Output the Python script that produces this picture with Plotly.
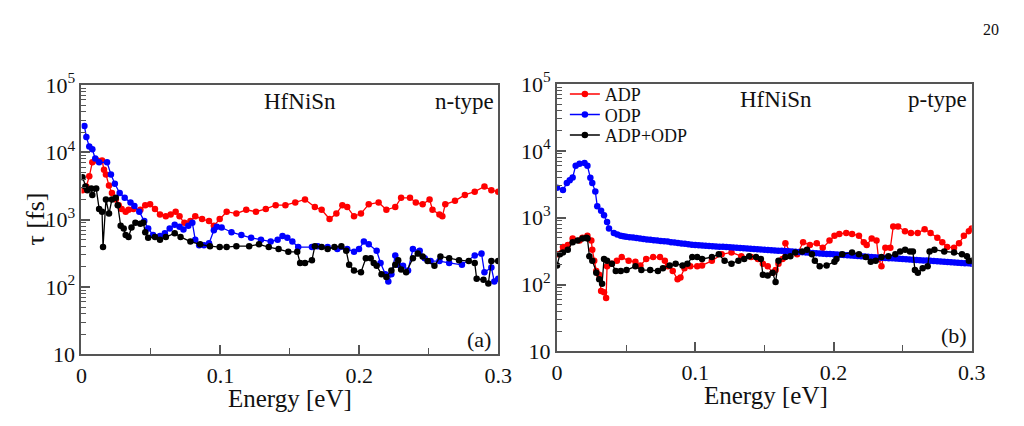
import plotly.graph_objects as go

# ---------------- data: n-type (panel a) ----------------
n_adp_E = [0.0007, 0.0035, 0.0056, 0.0078, 0.0113, 0.0148, 0.0162, 0.0176, 0.0198, 0.0219, 0.0247, 0.0268,
           0.0289, 0.0318, 0.0339, 0.0374, 0.0424, 0.0459, 0.0494, 0.0529, 0.0565, 0.0607, 0.0642, 0.0678,
           0.0706, 0.0741, 0.0784, 0.0819, 0.0868, 0.0918, 0.0953, 0.0995, 0.1045, 0.1115, 0.1186, 0.1256,
           0.1327, 0.1398, 0.1468, 0.1539, 0.1609, 0.1680, 0.1729, 0.1786, 0.1835, 0.1878, 0.1913, 0.1962,
           0.2012, 0.2068, 0.2139, 0.2195, 0.2259, 0.2301, 0.2365, 0.2407, 0.2456, 0.2506, 0.2527, 0.2577,
           0.2598, 0.2619, 0.2689, 0.2760, 0.2831, 0.2901, 0.2951, 0.3000]
n_adp_tau = [2730, 3100, 4400, 7100, 7570, 7570, 5500, 4690, 3200, 2480, 1990, 1640,
             1440, 1310, 1400, 1440, 1400, 1640, 1690, 1440, 1190, 1120, 1190, 1310,
             1120, 895, 953, 1120, 1020, 953, 813, 1020, 1310, 1230, 1400, 1310,
             1440, 1640, 1640, 1800, 1990, 1540, 1400, 1020, 1230, 1640, 1540, 1120,
             1230, 1690, 1800, 1400, 1540, 2110, 2110, 1800, 1690, 1990, 1400, 1190,
             1120, 1690, 1900, 2330, 2600, 3100, 2730, 2600]

n_odp_E = [0.0021, 0.0035, 0.0056, 0.0078, 0.0099, 0.0127, 0.0184, 0.0212, 0.0240, 0.0275, 0.0311, 0.0353,
           0.0381, 0.0416, 0.0452, 0.0480, 0.0515, 0.0565, 0.0600, 0.0635, 0.0671, 0.0706, 0.0734, 0.0769,
           0.0798, 0.0819, 0.0847, 0.0882, 0.0918, 0.0953, 0.0974, 0.1009, 0.1080, 0.1151, 0.1221, 0.1292,
           0.1362, 0.1412, 0.1447, 0.1482, 0.1518, 0.1560, 0.1659, 0.1701, 0.1772, 0.1842, 0.1913, 0.1962,
           0.1998, 0.2033, 0.2068, 0.2125, 0.2153, 0.2188, 0.2209, 0.2231, 0.2259, 0.2280, 0.2315, 0.2351,
           0.2386, 0.2435, 0.2471, 0.2513, 0.2577, 0.2647, 0.2739, 0.2831, 0.2880, 0.2901, 0.2951, 0.2972,
           0.3000]
n_odp_tau = [24600, 16800, 12200, 11100, 8070, 7100, 7100, 4690, 3410, 2480, 2110, 1800,
             1590, 1310, 953, 739, 591, 572, 630, 739, 839, 787, 716, 813,
             895, 504, 416, 416, 444, 693, 787, 763, 650, 591, 537, 504,
             473, 504, 572, 537, 473, 391, 391, 403, 391, 366, 366, 333,
             366, 473, 430, 344, 227, 155, 120, 155, 293, 213, 206, 176,
             366, 344, 266, 242, 242, 227, 213, 293, 313, 165, 194, 120,
             132]

n_tot_E = [0.0007, 0.0028, 0.0042, 0.0071, 0.0078, 0.0106, 0.0127, 0.0148, 0.0155, 0.0176, 0.0198, 0.0219,
           0.0247, 0.0261, 0.0282, 0.0304, 0.0318, 0.0339, 0.0360, 0.0388, 0.0424, 0.0445, 0.0459, 0.0480,
           0.0529, 0.0565, 0.0607, 0.0671, 0.0713, 0.0784, 0.0854, 0.0925, 0.0995, 0.1045, 0.1115, 0.1207,
           0.1278, 0.1348, 0.1419, 0.1489, 0.1553, 0.1574, 0.1609, 0.1659, 0.1680, 0.1729, 0.1772, 0.1821,
           0.1871, 0.1906, 0.1927, 0.1962, 0.2012, 0.2047, 0.2082, 0.2104, 0.2125, 0.2160, 0.2195, 0.2231,
           0.2259, 0.2280, 0.2301, 0.2337, 0.2386, 0.2421, 0.2456, 0.2492, 0.2541, 0.2584, 0.2647, 0.2718,
           0.2788, 0.2831, 0.2845, 0.2894, 0.2929, 0.2951, 0.3000]
n_tot_tau = [4260, 3100, 2730, 2910, 2330, 2910, 1440, 1310, 391, 1990, 1230, 1990,
             2110, 1640, 813, 739, 591, 554, 763, 895, 866, 895, 650, 537,
             554, 504, 554, 630, 554, 473, 430, 403, 391, 391, 403, 403,
             430, 391, 366, 333, 333, 227, 227, 250, 403, 391, 366, 391,
             403, 344, 213, 176, 165, 266, 266, 227, 206, 155, 141, 176,
             213, 250, 182, 165, 266, 313, 284, 242, 206, 284, 266, 250,
             242, 227, 132, 128, 113, 242, 242]

# ---------------- data: p-type (panel b) ----------------
p_adp_E = [0.0000, 0.0043, 0.0078, 0.0113, 0.0163, 0.0184, 0.0220, 0.0248, 0.0255, 0.0269, 0.0284, 0.0305,
           0.0319, 0.0340, 0.0355, 0.0362, 0.0397, 0.0433, 0.0468, 0.0518, 0.0567, 0.0603, 0.0645, 0.0695,
           0.0745, 0.0780, 0.0801, 0.0837, 0.0872, 0.0893, 0.0922, 0.0964, 0.1014, 0.1049, 0.1120, 0.1191,
           0.1262, 0.1333, 0.1404, 0.1453, 0.1489, 0.1524, 0.1560, 0.1581, 0.1602, 0.1631, 0.1652, 0.1688,
           0.1737, 0.1780, 0.1829, 0.1879, 0.1922, 0.1971, 0.2007, 0.2042, 0.2092, 0.2134, 0.2184, 0.2219,
           0.2240, 0.2276, 0.2311, 0.2326, 0.2347, 0.2375, 0.2411, 0.2432, 0.2467, 0.2517, 0.2560, 0.2609,
           0.2659, 0.2702, 0.2751, 0.2787, 0.2822, 0.2872, 0.2908, 0.2943, 0.2979, 0.3000]
p_adp_tau = [284, 366, 391, 488, 458, 504, 537, 458, 333, 227, 160, 141,
             80, 77, 63, 188, 206, 227, 258, 227, 220, 194, 242, 258,
             258, 227, 188, 160, 120, 128, 176, 188, 188, 194, 227, 284,
             303, 266, 258, 242, 206, 188, 150, 165, 206, 242, 416, 303,
             284, 430, 391, 416, 355, 458, 537, 572, 591, 572, 537, 430,
             391, 488, 458, 242, 188, 355, 355, 739, 739, 630, 591, 591,
             672, 591, 504, 430, 366, 355, 416, 537, 630, 693]

p_odp_E = [0.0000, 0.0043, 0.0071, 0.0092, 0.0113, 0.0135, 0.0163, 0.0199, 0.0220, 0.0241, 0.0255, 0.0277,
           0.0291, 0.0319, 0.0340, 0.0362, 0.0376, 0.0411, 0.0436, 0.0461, 0.048, 0.050, 0.0525, 0.055,
           0.0575, 0.060, 0.0625, 0.065, 0.0675, 0.070, 0.0725,
           0.075, 0.0775, 0.080, 0.0825, 0.085, 0.0875, 0.090, 0.0925, 0.095, 0.0975, 0.100, 0.1025,
           0.105, 0.1075, 0.110, 0.1125, 0.115, 0.1175, 0.120, 0.1225, 0.125, 0.1275, 0.130, 0.1325,
           0.135, 0.1375, 0.140, 0.1425, 0.145, 0.1475, 0.150, 0.1525, 0.155, 0.1575, 0.160, 0.1625,
           0.165, 0.1675, 0.170, 0.1725, 0.175, 0.1775, 0.180, 0.1825, 0.185, 0.1875, 0.190, 0.1925,
           0.195, 0.1975, 0.200, 0.2025, 0.205, 0.2075, 0.210, 0.2125, 0.215, 0.2175, 0.220, 0.2225,
           0.225, 0.2275, 0.230, 0.2325, 0.235, 0.2375, 0.240, 0.2425, 0.245, 0.2475, 0.250, 0.2525,
           0.255, 0.2575, 0.260, 0.2625, 0.265, 0.2675, 0.270, 0.2725, 0.275, 0.2775, 0.280, 0.2825,
           0.285, 0.2875, 0.290, 0.2925, 0.295, 0.2975, 0.300]
p_odp_tau = [2820, 2600, 3300, 3650, 4000, 6000, 6450, 6600, 6000, 3950, 3300, 2480,
             1490, 1270, 1090, 866, 693, 591, 560, 537, 528, 520, 512, 505,
             497, 490, 482, 475, 468, 462, 456,
             450, 445, 440, 432, 425, 419, 413, 407, 402, 396, 391, 388,
             385, 382, 379, 376, 373, 370, 367, 364, 361, 358, 355, 352,
             349, 347, 344, 341, 338, 336, 333, 330, 328, 325, 322, 320,
             317, 315, 312, 310, 307, 305, 302, 300, 297, 295, 293, 290,
             288, 286, 284, 281, 279, 277, 275, 272, 270, 268, 266, 264,
             262, 259, 257, 255, 253, 251, 249, 247, 245, 243, 241, 240,
             238, 236, 234, 232, 230, 229, 227, 225, 223, 221, 219, 218,
             216, 214, 212, 211, 209, 208, 206]

p_tot_E = [0.0000, 0.0021, 0.0043, 0.0078, 0.0113, 0.0149, 0.0184, 0.0213, 0.0220, 0.0234, 0.0255, 0.0284,
           0.0305, 0.0326, 0.0340, 0.0362, 0.0397, 0.0425, 0.0461, 0.0503, 0.0567, 0.0610, 0.0674, 0.0730,
           0.0766, 0.0815, 0.0858, 0.0908, 0.0943, 0.0978, 0.1014, 0.1049, 0.1120, 0.1170, 0.1212, 0.1262,
           0.1312, 0.1354, 0.1390, 0.1440, 0.1475, 0.1489, 0.1524, 0.1560, 0.1581, 0.1602, 0.1652, 0.1688,
           0.1723, 0.1773, 0.1808, 0.1844, 0.1865, 0.1900, 0.1950, 0.2007, 0.2021, 0.2063, 0.2134, 0.2184,
           0.2234, 0.2269, 0.2305, 0.2347, 0.2397, 0.2447, 0.2482, 0.2518, 0.2553, 0.2574, 0.2589, 0.2610,
           0.2645, 0.2681, 0.2695, 0.2730, 0.2801, 0.2872, 0.2929, 0.2965, 0.2979, 0.3000]
p_tot_tau = [194, 284, 303, 333, 430, 458, 488, 504, 488, 266, 227, 150,
             120, 103, 242, 227, 206, 160, 160, 165, 188, 165, 165, 160,
             176, 194, 206, 194, 206, 258, 258, 242, 258, 284, 227, 206,
             227, 242, 266, 258, 242, 141, 137, 150, 109, 227, 258, 266,
             303, 313, 333, 284, 227, 188, 194, 220, 242, 284, 303, 284,
             258, 220, 227, 258, 266, 284, 313, 333, 313, 313, 165, 150,
             176, 188, 313, 333, 313, 303, 284, 266, 227, 227]

y_tickvals = [10, 100, 1000, 10000, 100000]
y_ticktext = ["10", "10<sup>2</sup>", "10<sup>3</sup>", "10<sup>4</sup>", "10<sup>5</sup>"]
x_tickvals = [0, 0.1, 0.2, 0.3]
x_ticktext = ["0", "0.1", "0.2", "0.3"]
series_names = ["ADP", "ODP", "ADP+ODP"]
series_colors = ["#ff0000", "#0000ff", "#000000"]

FONT = "Liberation Serif, Times New Roman, Times, serif"
W, H = 1024, 426

fig = go.Figure()

legend_ids = ["legend", "legend2", "legend3"]
panels = [
    ("x", "y", [(n_adp_E, n_adp_tau), (n_odp_E, n_odp_tau), (n_tot_E, n_tot_tau)], False),
    ("x2", "y2", [(p_adp_E, p_adp_tau), (p_odp_E, p_odp_tau), (p_tot_E, p_tot_tau)], True),
]
for xa, ya, series, show in panels:
    for (ex, ty), name, col, lg in zip(series, series_names, series_colors, legend_ids):
        fig.add_trace(go.Scatter(
            x=ex, y=ty, xaxis=xa, yaxis=ya, name=name, showlegend=show, legend=lg,
            mode="lines+markers", line=dict(color=col, width=1.3),
            marker=dict(color=col, size=6.5, line=dict(width=0)),
        ))

minor_y = [m * 10 ** k for k in range(1, 5) for m in range(2, 10)]

def xax(domain, anchor):
    return dict(domain=domain, anchor=anchor, range=[0, 0.3], tickmode="array",
                tickvals=x_tickvals, ticktext=x_ticktext, ticks="inside", ticklen=9,
                tickwidth=1.5, tickcolor="#555", showline=True, linecolor="#555",
                linewidth=2, mirror=True, showgrid=False, zeroline=False,
                tickfont=dict(family=FONT, size=22, color="#111"),
                minor=dict(tickmode="array", tickvals=[0.05, 0.15, 0.25], ticks="inside",
                           ticklen=6, tickwidth=1.2, tickcolor="#555", showgrid=False))

def yax(domain, anchor):
    return dict(domain=domain, anchor=anchor, type="log", range=[1, 5], tickmode="array",
                tickvals=y_tickvals, ticktext=y_ticktext, ticks="inside", ticklen=9,
                tickwidth=1.5, tickcolor="#555", showline=True, linecolor="#555",
                linewidth=2, mirror=True, showgrid=False, zeroline=False,
                tickfont=dict(family=FONT, size=22, color="#111"),
                minor=dict(tickmode="array", tickvals=minor_y, ticks="inside",
                           ticklen=5, tickwidth=1, tickcolor="#555", showgrid=False))

def leg(py):
    return dict(x=570 / W, y=1 - py / H, xanchor="left", yanchor="middle",
                bgcolor="rgba(0,0,0,0)", font=dict(family=FONT, size=18, color="#111"),
                itemwidth=30, borderwidth=0)

fig.update_layout(
    width=W, height=H,
    margin=dict(l=0, r=0, t=0, b=0),
    paper_bgcolor="white", plot_bgcolor="white",
    font=dict(family=FONT, color="#111"),
    xaxis=xax([77 / W, 502 / W], "y"),
    yaxis=yax([1 - 363 / H, 1 - 74 / H], "x"),
    xaxis2=xax([562 / W, 985 / W], "y2"),
    yaxis2=yax([1 - 360 / H, 1 - 73 / H], "x2"),
    legend=leg(84), legend2=leg(106), legend3=leg(128),
    showlegend=True,
)

def ann(text, px, py, size, xanchor="center", angle=0):
    fig.add_annotation(text=text, x=px / W, y=1 - py / H, xref="paper", yref="paper",
                       showarrow=False, xanchor=xanchor, yanchor="middle", textangle=angle,
                       font=dict(family=FONT, size=size, color="#111"))

ann("HfNiSn", 300, 92, 23)
ann("n-type", 468, 92, 23)
ann("(a)", 482, 347, 22)
ann("HfNiSn", 785, 90, 23)
ann("p-type", 950, 90, 23)
ann("(b)", 967, 343, 22)
ann("Energy [eV]", 290, 410, 25)
ann("Energy [eV]", 775, 407, 25)
ann("τ [fs]", 30, 218, 26, angle=-90)
ann("20", 1005, 14, 16)

fig.write_html("out.html")
